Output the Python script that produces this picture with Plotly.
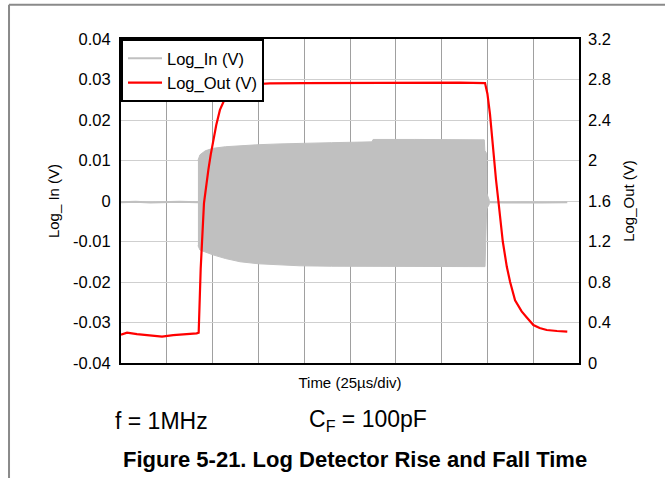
import plotly.graph_objects as go

# ---- data (time in microseconds; 25 us/div, 10 divisions) ----
in_base_left_t = [0, 8, 16, 24, 32, 42.0]
in_base_left_v = [-0.0003, -0.0002, -0.0004, -0.0003, -0.0002, -0.0003]
in_base_right_t = [201.0, 210, 220, 230, 243.6]
in_base_right_v = [-0.0003, -0.0004, -0.0003, -0.0004, -0.0003]

# burst envelope of Log_In (dense 1 MHz sine)
env_t = [42.0, 43.1, 46.0, 50.2, 57.0, 65.0, 75.0, 86.8, 97.7, 115.0, 137.0, 137.6, 160.0, 180.0, 198.3]
env_top = [0.0100, 0.0114, 0.0124, 0.0130, 0.0134, 0.0137, 0.0139, 0.0141, 0.01425, 0.0144, 0.0146, 0.0152, 0.0152, 0.0151, 0.0151]
env_bot = [-0.0110, -0.0121, -0.0127, -0.0133, -0.0142, -0.0150, -0.0155, -0.0158, -0.0160, -0.0161, -0.0161, -0.0162, -0.0162, -0.0162, -0.0162]
tail_t = [198.6, 199.5, 199.6, 201.0, 201.0, 199.6, 198.7]
tail_v = [0.0125, 0.0118, 0.0020, 0.0002, -0.0008, -0.0020, -0.0162]

out_t = [0, 3.3, 8.7, 14.2, 18.0, 22.4, 28.5, 35.9, 41.3, 42.4, 43.5, 45.3, 46.5, 47.7, 49.0, 50.4,
         52.0, 54.0, 56.2, 58.6, 61.5, 65.0, 72.0, 81.3, 100, 130, 160, 185, 198.7, 200.0,
         201.4, 203.2, 204.7, 206.0, 208.4, 210.6, 212.4, 215.1, 218.7, 221.5, 225.1, 228.5,
         232.4, 238.0, 243.6]
out_v = [0.28, 0.30, 0.286, 0.277, 0.27, 0.26, 0.275, 0.283, 0.293, 0.30, 0.93, 1.58, 1.77, 1.91, 2.06, 2.20,
         2.35, 2.50, 2.59, 2.65, 2.71, 2.745, 2.755, 2.762, 2.765, 2.768, 2.77, 2.77, 2.765, 2.66,
         2.46, 2.07, 1.81, 1.60, 1.20, 0.95, 0.80, 0.62, 0.51, 0.45, 0.375, 0.345,
         0.326, 0.316, 0.31]

left_tickvals = [-0.04, -0.03, -0.02, -0.01, 0, 0.01, 0.02, 0.03, 0.04]
left_ticktext = ["-0.04", "-0.03", "-0.02", "-0.01", "0", "0.01", "0.02", "0.03", "0.04"]
right_tickvals = [0, 0.4, 0.8, 1.2, 1.6, 2.0, 2.4, 2.8, 3.2]
right_ticktext = ["0", "0.4", "0.8", "1.2", "1.6", "2", "2.4", "2.8", "3.2"]

GRAY = "#c0c0c0"
RED = "#ff0000"
FONT = "Liberation Sans, Arial, sans-serif"

fig = go.Figure()

# baseline of Log_In (legend entry)
fig.add_trace(go.Scatter(
    x=in_base_left_t + [None] + in_base_right_t,
    y=in_base_left_v + [None] + in_base_right_v,
    mode="lines", line=dict(color=GRAY, width=2), name="Log_In (V)",
    connectgaps=False))

# burst envelope as filled polygon
poly_x = env_t + tail_t + env_t[::-1]
poly_y = env_top + tail_v + env_bot[::-1]
fig.add_trace(go.Scatter(
    x=poly_x, y=poly_y, mode="lines", fill="toself", fillcolor=GRAY,
    line=dict(color=GRAY, width=1), showlegend=False, hoverinfo="skip"))

fig.add_trace(go.Scatter(
    x=out_t, y=out_v, yaxis="y2", mode="lines",
    line=dict(color=RED, width=2.2), name="Log_Out (V)"))

fig.update_layout(
    width=665, height=478,
    margin=dict(l=121, r=86, t=39, b=115, autoexpand=False),
    paper_bgcolor="white", plot_bgcolor="white",
    font=dict(family=FONT, size=16.5, color="black"),
    showlegend=True,
    legend=dict(x=0, y=1, xanchor="left", yanchor="top",
                bgcolor="white", bordercolor="black", borderwidth=2,
                font=dict(size=16.5), tracegroupgap=0, itemwidth=34),
    xaxis=dict(range=[0, 250], dtick=25, tick0=0, showticklabels=False,
               showgrid=True, gridcolor="#a0a0a0", gridwidth=1, automargin=False,
               zeroline=False, showline=True, linecolor="black", linewidth=2,
               mirror=True, ticks="",
               title=dict(text="Time (25µs/div)", font=dict(size=15), standoff=13)),
    yaxis=dict(range=[-0.04, 0.04], tickvals=left_tickvals, ticktext=left_ticktext,
               showgrid=True, gridcolor="#cfcfcf", gridwidth=1, zeroline=False,
               automargin=False,
               showline=True, linecolor="black", linewidth=2, mirror=True, ticks="",
               ticklabelstandoff=5,
               title=dict(text="Log_ In (V)", font=dict(size=15), standoff=10)),
    yaxis2=dict(range=[0, 3.2], tickvals=right_tickvals, ticktext=right_ticktext,
                overlaying="y", side="right", showgrid=False, zeroline=False,
                automargin=False,
                showline=False, ticks="", ticklabelstandoff=8,
                title=dict(text="Log_Out (V)", font=dict(size=15), standoff=13)),
)

# frame lines of the page
fig.add_shape(type="line", xref="paper", yref="paper", x0=-0.2445, x1=1.2,
              y0=1.106, y1=1.106, line=dict(color="#8a8a8a", width=2))
fig.add_shape(type="line", xref="paper", yref="paper", x0=-0.2445, x1=-0.2445,
              y0=1.106, y1=-0.40, line=dict(color="#8a8a8a", width=2))

fig.add_annotation(text="f = 1MHz", xref="paper", yref="paper", x=-0.0175, y=-0.179,
                   xanchor="left", yanchor="middle", showarrow=False,
                   font=dict(size=23, family=FONT))
fig.add_annotation(text="C<sub>F</sub> = 100pF", xref="paper", yref="paper", x=0.406, y=-0.179,
                   xanchor="left", yanchor="middle", showarrow=False,
                   font=dict(size=23, family=FONT))
fig.add_annotation(text="<b>Figure 5-21. Log Detector Rise and Fall Time</b>", xref="paper",
                   yref="paper", x=0.511, y=-0.299, xanchor="center", yanchor="middle",
                   showarrow=False, font=dict(size=22, family=FONT))

fig.write_html("out.html", config={"displayModeBar": False},
               post_script="document.body.style.margin='0';")
